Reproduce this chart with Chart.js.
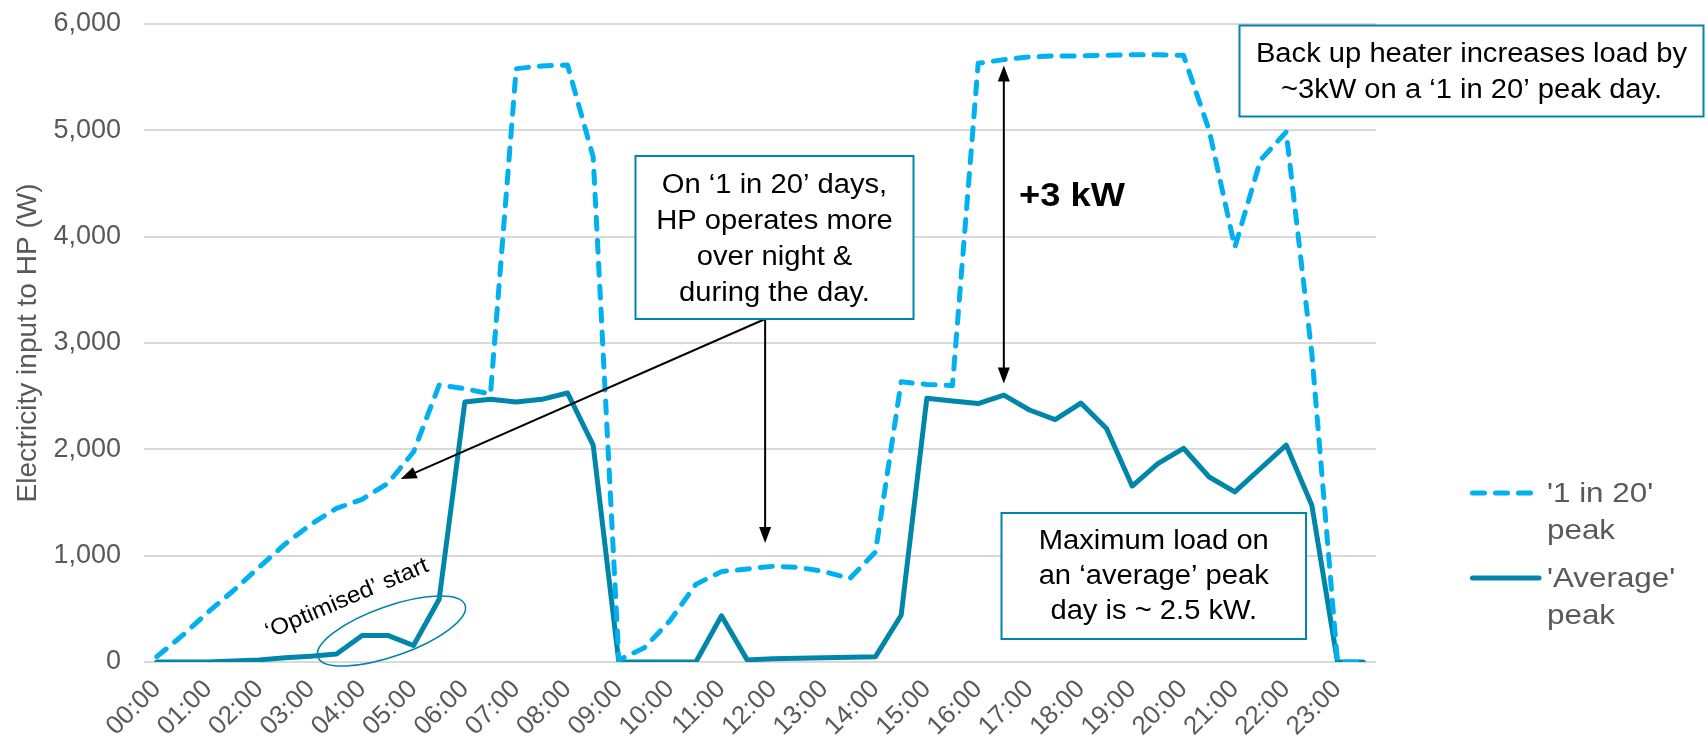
<!DOCTYPE html>
<html>
<head>
<meta charset="utf-8">
<title>Heat pump electricity input on peak days</title>
<script src="https://cdn.jsdelivr.net/npm/chart.js@4.4.1/dist/chart.umd.min.js"></script>
<style>
  html, body { margin: 0; padding: 0; background: #ffffff; }
  canvas { display: block; }
</style>
</head>
<body>
<canvas id="load" width="1706" height="742"></canvas>
<script>
// Half-hourly time slots across the day
const categories = [
  '00:00','00:30','01:00','01:30','02:00','02:30','03:00','03:30',
  '04:00','04:30','05:00','05:30','06:00','06:30','07:00','07:30',
  '08:00','08:30','09:00','09:30','10:00','10:30','11:00','11:30',
  '12:00','12:30','13:00','13:30','14:00','14:30','15:00','15:30',
  '16:00','16:30','17:00','17:30','18:00','18:30','19:00','19:30',
  '20:00','20:30','21:00','21:30','22:00','22:30','23:00','23:30'
];

// Electricity input to the heat pump (W) on a '1 in 20' peak day
const peak1in20 = [
  50, 250, 470, 675, 895, 1110, 1295, 1445,
  1530, 1680, 1975, 2605, 2570, 2520, 5580, 5605,
  5615, 4750, 20, 135, 390, 730, 850, 875,
  900, 890, 850, 785, 1035, 2635, 2610, 2600,
  5630, 5665, 5690, 5700, 5700, 5705, 5710, 5710,
  5705, 5000, 3900, 4720, 4985, 2900, 0, 0
];

// Electricity input to the heat pump (W) on an 'average' peak day
const averagePeak = [
  0, 0, 0, 10, 20, 40, 55, 75,
  250, 250, 155, 590, 2445, 2470, 2445, 2470,
  2530, 2040, 0, 0, 0, 0, 435, 20,
  30, 35, 40, 45, 50, 440, 2480, 2455,
  2430, 2510, 2370, 2280, 2435, 2195, 1655, 1865,
  2010, 1740, 1600, 1820, 2040, 1475, 0, 0
];

// Series names
const seriesNames = ["'1 in 20' peak", "'Average' peak"];

// Y axis range
const yTicks = [0, 1000, 2000, 3000, 4000, 5000, 6000];

const FONT = "'Liberation Sans', Arial, Helvetica, sans-serif";
const LIGHT_BLUE = '#00B0F0';
const TEAL = '#0086A9';
const GREY_TEXT = '#595959';

function drawText(ctx, text, x, y, sx) {
  ctx.save();
  ctx.translate(x, y);
  ctx.scale(sx, 1);
  ctx.fillText(text, 0, 0);
  ctx.restore();
}

function arrowHead(ctx, x1, y1, x2, y2, len, half) {
  const a = Math.atan2(y2 - y1, x2 - x1);
  ctx.beginPath();
  ctx.moveTo(x2, y2);
  ctx.lineTo(x2 - len * Math.cos(a) + half * Math.sin(a), y2 - len * Math.sin(a) - half * Math.cos(a));
  ctx.lineTo(x2 - len * Math.cos(a) - half * Math.sin(a), y2 - len * Math.sin(a) + half * Math.cos(a));
  ctx.closePath();
  ctx.fill();
}

function arrow(ctx, x1, y1, x2, y2, both) {
  const len = 16, half = 6;
  const a = Math.atan2(y2 - y1, x2 - x1);
  ctx.beginPath();
  ctx.moveTo(both ? x1 + len * 0.8 * Math.cos(a) : x1, both ? y1 + len * 0.8 * Math.sin(a) : y1);
  ctx.lineTo(x2 - len * 0.8 * Math.cos(a), y2 - len * 0.8 * Math.sin(a));
  ctx.stroke();
  arrowHead(ctx, x1, y1, x2, y2, len, half);
  if (both) arrowHead(ctx, x2, y2, x1, y1, len, half);
}

function textBox(ctx, left, top, right, bottom, lines, cy, lineGap) {
  ctx.fillStyle = '#ffffff';
  ctx.fillRect(left, top, right - left, bottom - top);
  ctx.strokeStyle = TEAL;
  ctx.lineWidth = 2;
  ctx.strokeRect(left, top, right - left, bottom - top);
  ctx.fillStyle = '#000000';
  ctx.font = '27px ' + FONT;
  ctx.textAlign = 'center';
  ctx.textBaseline = 'middle';
  const cx = (left + right) / 2;
  lines.forEach((t, i) => drawText(ctx, t, cx, cy + i * lineGap, 1.08));
}

// Call-outs, arrows and the highlighted early-morning section
const calloutPlugin = {
  id: 'callouts',
  afterDatasetsDraw(chart) {
    const ctx = chart.ctx;
    const xs = chart.scales.x, ys = chart.scales.y;
    ctx.save();

    // Ellipse around the optimised start period
    ctx.strokeStyle = TEAL;
    ctx.lineWidth = 1.6;
    ctx.beginPath();
    ctx.ellipse(391.5, 631, 78, 25, -19.4 * Math.PI / 180, 0, Math.PI * 2);
    ctx.stroke();

    ctx.fillStyle = '#000000';
    ctx.font = '23px ' + FONT;
    ctx.textAlign = 'center';
    ctx.textBaseline = 'middle';
    ctx.save();
    ctx.translate(347, 599);
    ctx.rotate(-23 * Math.PI / 180);
    ctx.scale(1.06, 1);
    ctx.fillText('\u2018Optimised\u2019 start', 0, 0);
    ctx.restore();

    // Arrows from the '1 in 20' call-out
    ctx.strokeStyle = '#000000';
    ctx.fillStyle = '#000000';
    ctx.lineWidth = 2;
    const fromX = xs.getPixelForValue(23.7), fromY = 319;
    arrow(ctx, fromX, fromY, xs.getPixelForValue(9.5), ys.getPixelForValue(1720), false);
    arrow(ctx, fromX, fromY, fromX, ys.getPixelForValue(1120), false);

    // +3 kW difference marker
    const dx = xs.getPixelForValue(33);
    arrow(ctx, dx, ys.getPixelForValue(2620), dx, ys.getPixelForValue(5610), true);
    ctx.font = 'bold 33px ' + FONT;
    ctx.textAlign = 'left';
    ctx.textBaseline = 'middle';
    drawText(ctx, '+3 kW', 1019, 197, 1.1);

    textBox(ctx, 635.5, 156, 913.5, 319,
      ['On \u20181 in 20\u2019 days,', 'HP operates more', 'over night &', 'during the day.'], 186, 36);
    textBox(ctx, 1239.5, 25.5, 1703.5, 116.5,
      ['Back up heater increases load by', '~3kW on a \u20181 in 20\u2019 peak day.'], 55, 36);
    textBox(ctx, 1001.5, 513, 1306, 639,
      ['Maximum load on', 'an \u2018average\u2019 peak', 'day is ~ 2.5 kW.'], 542, 35);

    ctx.restore();
  }
};

// Legend at the right with two-line labels
const sideLegend = {
  id: 'sideLegend',
  afterDraw(chart) {
    const ctx = chart.ctx;
    ctx.save();
    const rows = [493, 578];
    chart.data.datasets.forEach((ds, i) => {
      const y = rows[i];
      ctx.strokeStyle = ds.borderColor;
      ctx.lineWidth = ds.borderWidth;
      ctx.lineCap = 'round';
      ctx.setLineDash(ds.borderDash || []);
      ctx.beginPath();
      ctx.moveTo(1472.5, y);
      ctx.lineTo(ds.borderDash ? 1532.5 : 1539, y);
      ctx.stroke();
      ctx.setLineDash([]);
      const cut = ds.label.lastIndexOf(' ');
      const parts = [ds.label.slice(0, cut), ds.label.slice(cut + 1)];
      ctx.fillStyle = GREY_TEXT;
      ctx.font = '28px ' + FONT;
      ctx.textAlign = 'left';
      ctx.textBaseline = 'middle';
      parts.forEach((p, k) => drawText(ctx, p, 1547, y + 1 + k * 37, 1.12));
    });
    ctx.restore();
  }
};

Chart.defaults.font.family = FONT;

new Chart(document.getElementById('load'), {
  type: 'line',
  data: {
    labels: categories,
    datasets: [
      {
        label: seriesNames[0],
        data: peak1in20,
        borderColor: LIGHT_BLUE,
        borderWidth: 5,
        borderDash: [12, 11],
        borderCapStyle: 'round',
        borderJoinStyle: 'round',
        pointRadius: 0,
        tension: 0,
        fill: false
      },
      {
        label: seriesNames[1],
        data: averagePeak,
        borderColor: TEAL,
        borderWidth: 5,
        borderCapStyle: 'round',
        borderJoinStyle: 'round',
        pointRadius: 0,
        tension: 0,
        fill: false
      }
    ]
  },
  options: {
    responsive: false,
    animation: false,
    layout: { padding: { top: 24, right: 330, bottom: 0, left: 0 } },
    plugins: {
      legend: { display: false },
      tooltip: { enabled: false }
    },
    scales: {
      x: {
        offset: true,
        grid: { display: false, drawTicks: false },
        border: { display: false },
        ticks: {
          autoSkip: false,
          minRotation: 45,
          maxRotation: 45,
          padding: 12,
          color: GREY_TEXT,
          font: { size: 26 },
          callback: (v, i) => (i % 2 === 0 ? categories[i] : '')
        },
        afterFit: s => {
          s.height = 80;
          s.paddingLeft = 0; s.paddingRight = 0;
        }
      },
      y: {
        min: yTicks[0],
        max: yTicks[yTicks.length - 1],
        afterBuildTicks: s => { s.ticks = yTicks.map(v => ({ value: v })); },
        grid: { color: '#D9D9D9', lineWidth: 2, drawTicks: false },
        border: { display: false },
        ticks: {
          padding: 23,
          color: GREY_TEXT,
          font: { size: 27 },
          callback: v => v.toLocaleString('en-US')
        },
        title: {
          display: true,
          text: 'Electricity input to HP (W)',
          color: GREY_TEXT,
          font: { size: 28 },
          padding: { top: 11, bottom: 0 }
        },
        afterFit: s => {
          s.width = 144;
          s.paddingTop = 0; s.paddingBottom = 0;
        }
      }
    }
  },
  plugins: [calloutPlugin, sideLegend]
});
</script>
</body>
</html>
